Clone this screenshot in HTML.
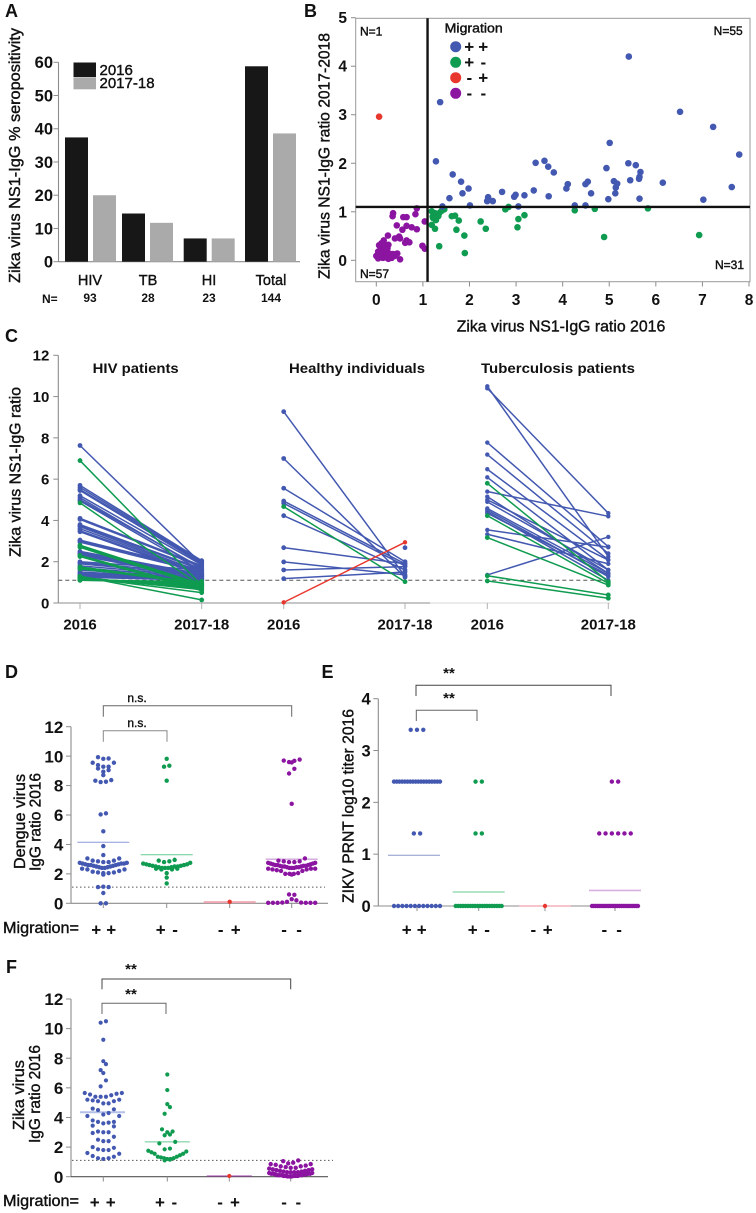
<!DOCTYPE html>
<html lang="en"><head><meta charset="utf-8"><title>Zika virus serology panels</title>
<style>
html,body{margin:0;padding:0;background:#fff}
svg{display:block;font-family:"Liberation Sans",Arial,sans-serif}
text{fill:#111}
.s{stroke:#111;stroke-width:.4px}
.b{font-weight:bold}
.l{font-weight:bold;font-size:18px}
.pm{font-weight:bold;font-size:17px}
</style></head><body>
<svg id="figure" width="756" height="1213" viewBox="0 0 756 1213" xmlns="http://www.w3.org/2000/svg">
<g id="panel-a">
<text class="l" x="5" y="17">A</text>
<text class="s" transform="translate(20,283) rotate(-90)" font-size="16" textLength="255" lengthAdjust="spacingAndGlyphs">Zika virus NS1-IgG % seropositivity</text>
<rect x="73.5" y="62.5" width="22.5" height="14.5" fill="#171717"/>
<rect x="73.5" y="77.3" width="22.5" height="12" fill="#aaaaaa"/>
<text class="s" x="99.5" y="75" font-size="15">2016</text>
<text class="s" x="99.5" y="88" font-size="15">2017-18</text>
<text class="b" x="42" y="303" font-size="12">N=</text>
</g>
<g id="panel-b">
<text class="l" x="304" y="17">B</text>
<text class="s" transform="translate(329.3,279) rotate(-90)" font-size="16" textLength="246" lengthAdjust="spacingAndGlyphs">Zika virus NS1-IgG ratio 2017-2018</text>
<text class="s" x="456.7" y="331.7" font-size="16" textLength="208.6" lengthAdjust="spacingAndGlyphs">Zika virus NS1-IgG ratio 2016</text>
<text class="s" x="360" y="35.7" font-size="12">N=1</text>
<text class="s" x="742.7" y="35" font-size="12" text-anchor="end">N=55</text>
<text class="s" x="360" y="278" font-size="12">N=57</text>
<text class="s" x="744" y="269" font-size="12" text-anchor="end">N=31</text>
<text class="s" x="444.7" y="32.7" font-size="13" textLength="58" lengthAdjust="spacingAndGlyphs">Migration</text>
<text class="pm" x="464.3 478.3" y="52.5">++</text>
<text class="pm" x="464.3 480.5" y="68">+-</text>
<text class="pm" x="466.5 478.3" y="83.5">-+</text>
<text class="pm" x="466.5 480.5" y="99">--</text>
</g>
<g id="panel-c">
<text class="l" x="5" y="342">C</text>
<text class="s" transform="translate(20.7,557) rotate(-90)" font-size="15.5" textLength="170" lengthAdjust="spacingAndGlyphs">Zika virus NS1-IgG ratio</text>
<text class="b" x="92.7" y="373" font-size="14" textLength="86" lengthAdjust="spacingAndGlyphs">HIV patients</text>
<text class="b" x="289" y="373" font-size="14" textLength="136" lengthAdjust="spacingAndGlyphs">Healthy individuals</text>
<text class="b" x="481" y="373" font-size="14" textLength="154" lengthAdjust="spacingAndGlyphs">Tuberculosis patients</text>
</g>
<g id="panel-d">
<text class="l" x="5" y="678">D</text>
<text class="s" transform="translate(25,869) rotate(-90)" font-size="15.5" textLength="95" lengthAdjust="spacingAndGlyphs">Dengue virus</text>
<text class="s" transform="translate(40.7,871) rotate(-90)" font-size="15.5" textLength="98" lengthAdjust="spacingAndGlyphs">IgG ratio 2016</text>
<text class="s" x="3" y="933" font-size="16" textLength="76" lengthAdjust="spacingAndGlyphs">Migration=</text>
<text class="pm" x="91.3 106.3" y="935.5">++</text>
<text class="pm" x="155.7 172.2" y="935.5">+-</text>
<text class="pm" x="217.9 230.7" y="935.5">-+</text>
<text class="pm" x="281.2 296.2" y="935.5">--</text>
<text class="s" x="137" y="702" font-size="12" text-anchor="middle">n.s.</text>
<text class="s" x="137" y="727" font-size="12" text-anchor="middle">n.s.</text>
</g>
<g id="panel-e">
<text class="l" x="321.5" y="678">E</text>
<text class="s" transform="translate(353.3,903) rotate(-90)" font-size="16" textLength="194" lengthAdjust="spacingAndGlyphs">ZIKV PRNT log10 titer 2016</text>
<text class="pm" x="401.7 416.7" y="935.5">++</text>
<text class="pm" x="467.7 484.2" y="935.5">+-</text>
<text class="pm" x="530.5 542.7" y="935.5">-+</text>
<text class="pm" x="601.5 616.2" y="935.5">--</text>
<text class="b" x="449" y="678" font-size="15" text-anchor="middle">**</text>
<text class="b" x="449" y="703" font-size="15" text-anchor="middle">**</text>
</g>
<g id="panel-f">
<text class="l" x="6" y="973">F</text>
<text class="s" transform="translate(24,1130) rotate(-90)" font-size="15.5" textLength="70" lengthAdjust="spacingAndGlyphs">Zika virus</text>
<text class="s" transform="translate(40,1143) rotate(-90)" font-size="15.5" textLength="98" lengthAdjust="spacingAndGlyphs">IgG ratio 2016</text>
<text class="s" x="3" y="1206" font-size="16" textLength="76" lengthAdjust="spacingAndGlyphs">Migration=</text>
<text class="pm" x="89.7 105.7" y="1208">++</text>
<text class="pm" x="155 171.5" y="1208">+-</text>
<text class="pm" x="217.2 230" y="1208">-+</text>
<text class="pm" x="281.2 295.5" y="1208">--</text>
<text class="b" x="131" y="974" font-size="15" text-anchor="middle">**</text>
<text class="b" x="131" y="999" font-size="15" text-anchor="middle">**</text>
</g>
</svg>
<script>
/* ---------- Panel A data ---------- */
const aCategories=['HIV','TB','HI','Total'];
const aSero2016=[37.4,14.5,7,58.8];
const aSero2018=[20,11.7,7,38.6];
const aCounts=['93','28','23','144'];
const aTicks=[0,10,20,30,40,50,60];
/* ---------- Panel B data ---------- */
const bBlueX=[5.42,1.37,6.52,7.23,5.01,7.79,1.28,3.42,3.61,3.69,3.81,4.94,5.41,5.57,5.67,5.65,5.64,5.45,1.64,1.82,1.85,1.98,1.57,2.01,1.42,2.40,2.38,2.50,2.70,2.96,2.99,3.05,3.18,3.38,3.70,4.11,4.08,4.26,4.49,4.54,4.49,4.61,4.98,5.10,5.17,5.14,5.13,5.65,6.15,7.02,7.63];
const bBlueY=[4.20,3.26,3.06,2.75,2.42,2.18,2.04,2.01,2.05,1.93,1.81,1.90,2.00,1.96,1.82,1.72,1.68,1.65,1.77,1.62,1.38,1.48,1.28,1.13,1.11,1.30,1.22,1.22,1.41,1.31,1.35,1.11,1.34,1.44,1.32,1.57,1.48,1.13,1.13,1.62,1.57,1.38,1.26,1.63,1.58,1.50,1.38,1.27,1.60,1.25,1.51];
const bGreenX=[1.19,1.26,1.21,1.30,1.28,1.22,1.35,1.40,1.46,1.33,1.19,1.26,1.35,1.90,1.89,1.72,1.77,1.62,1.69,2.24,2.35,2.77,2.84,3.03,3.05,3.18,4.26,4.69,4.89,5.83,6.93];
const bGreenY=[1.01,0.97,0.90,0.90,0.83,0.87,0.97,1.02,1.05,0.91,0.73,0.65,0.29,0.15,0.51,0.63,0.82,0.91,0.92,0.80,0.65,1.05,1.10,0.68,0.85,0.93,1.03,1.06,0.48,1.07,0.52];
const bRedX=[0.06];
const bRedY=[2.96];
const bPurpleX=[0.87,0.84,0.36,0.35,0.58,0.65,1.04,0.44,0.65,0.76,0.87,0.56,0.25,0.40,0.49,0.51,0.65,0.71,0.62,0.99,1.04,0.16,0.11,0.06,0.19,0.24,0.11,0.04,0.16,0.28,0.36,0.45,0.01,0.08,0.16,0.29,0.40,0.51,0.04,0.00,0.11,0.21,0.26,0.13,0.18,0.22,0.08,0.14,0.20,0.30,0.33,0.26];
const bPurpleY=[1.07,0.95,0.97,0.91,0.89,0.89,0.80,0.72,0.71,0.68,0.64,0.63,0.51,0.45,0.49,0.45,0.41,0.37,0.36,0.30,0.24,0.41,0.35,0.31,0.32,0.25,0.25,0.18,0.18,0.14,0.13,0.14,0.09,0.08,0.11,0.08,0.09,0.02,0.04,0.09,0.14,0.20,0.32,0.22,0.26,0.13,0.15,0.05,0.06,0.12,0.05,0.03];
const bXTicks=[0,1,2,3,4,5,6,7,8];
const bYTicks=[0,1,2,3,4,5];
const bCutoff=1.1;
/* ---------- Panel C data ---------- */
const cTicks=[0,2,4,6,8,10,12];
const cTimepoints=['2016','2017-18'];
const cCutoff=1.1;
const hivBlue2016=[7.63,5.7,5.6,5.5,5.45,5.2,5.1,5.0,4.95,4.1,4.05,3.8,3.75,3.7,3.6,3.5,3.45,3.05,3.0,2.95,2.5,2.45,2.4,2.35,2.3,2.0,1.95,1.9,1.8,1.7,1.6,1.5,1.45,1.4,1.35,1.3,1.25];
const hivBlue2018=[1.9,2.05,2.0,1.95,1.9,1.85,1.65,1.7,1.55,1.8,1.75,1.65,1.6,1.5,1.45,1.4,1.35,1.6,1.55,1.5,1.4,1.35,1.3,1.25,1.2,1.6,1.45,1.35,1.3,1.25,1.2,1.2,1.15,1.15,1.1,1.15,1.1];
const hivGreen2016=[6.9,4.85,2.8,2.75,2.7,2.3,2.25,1.75,1.7,1.65,1.3,1.25,1.25,1.2,1.2,1.2,1.15,1.15,1.15,1.1,1.1];
const hivGreen2018=[0.85,0.8,0.9,0.85,0.8,0.7,0.6,0.95,0.9,1.0,0.15,0.65,0.5,0.7,0.75,0.8,0.85,0.9,0.95,1.0,1.05];
const hiBlue2016=[9.27,7.0,5.56,4.94,4.83,4.23,2.68,1.99,1.6,1.18];
const hiBlue2018=[1.3,1.25,2.0,1.9,1.8,1.6,1.9,1.36,1.76,1.5];
const hiBlueExtra2018=[2.68];
const hiGreen2016=[4.67];
const hiGreen2018=[1.03];
const hiRed2016=[0.03];
const hiRed2018=[2.94];
const tbBlue2016=[10.5,10.4,7.77,7.19,6.48,6.09,5.4,5.15,5.0,4.9,4.58,4.5,4.42,4.35,3.54,3.33,1.36];
const tbBlue2018=[2.25,4.35,2.73,2.4,2.1,1.6,4.2,1.44,2.08,1.6,1.44,1.28,1.1,1.36,2.7,1.9,3.2];
const tbGreen2016=[5.8,4.23,3.17,1.32,1.07];
const tbGreen2018=[1.03,0.95,0.87,0.39,0.23];
/* ---------- Panel D data ---------- */
const dTicks=[0,2,4,6,8,10,12];
const dPlusPlus=[9.93,9.84,9.82,9.55,9.55,9.39,9.28,9.28,9.16,9.05,8.94,8.71,8.37,8.33,8.26,8.24,6.11,6.04,4.89,3.89,3.28,3.05,3.05,2.9,2.9,2.85,2.8,2.8,2.75,2.75,2.7,2.7,2.7,2.65,2.65,2.6,2.6,2.6,2.55,2.55,2.5,2.5,2.45,2.45,2.4,2.4,2.35,2.3,2.3,2.2,2.15,2.1,2.1,2.05,2.05,1.95,1.1,1.1,1.13,0.7,0,0];
const dPlusMinus=[9.82,9.35,9.28,8.33,2.95,2.9,2.85,2.8,2.75,2.7,2.65,2.65,2.6,2.6,2.55,2.55,2.5,2.5,2.5,2.45,2.45,2.4,2.4,2.4,2.35,2.35,2.3,2.3,2.05,1.75,1.35];
const dMinusPlus=[0.1];
const dMinusMinus=[9.77,9.7,9.68,9.6,9.57,9.14,8.82,6.76,3.05,2.9,2.85,2.85,2.8,2.8,2.75,2.75,2.7,2.7,2.65,2.65,2.6,2.6,2.6,2.55,2.55,2.55,2.5,2.5,2.5,2.45,2.45,2.45,2.4,2.4,2.4,2.35,2.35,2.35,2.3,2.3,2.25,2.2,2.2,2.05,2.0,2.0,2.0,1.95,0.6,0.58,0.28,0.2,0.1,0.05,0.05,0.03,0.03,0.03,0.03,0.03,0.03];
const dMeans=[4.15,3.3,0.08,3.0];
const dCutoff=1.1;
/* ---------- Panel E data ---------- */
const eTicks=[0,1,2,3,4];
const eRowLevels=[3.4,2.4,1.4,0];
const eCountsPlusPlus=[3,18,2,12];
const eCountsPlusMinus=[0,2,2,20];
const eCountsMinusPlus=[0,0,0,1];
const eCountsMinusMinus=[0,2,6,26];
const eMeans=[0.98,0.27,0,0.3];
/* ---------- Panel F data ---------- */
const fTicks=[0,2,4,6,8,10,12];
const fPlusPlus=[10.5,10.4,9.25,7.8,7.6,7.2,7.0,6.5,6.1,5.65,5.65,5.6,5.55,5.5,5.4,5.4,5.4,5.2,5.2,5.15,5.1,5.1,4.95,4.95,4.6,4.55,4.5,4.3,4.2,4.1,4.1,3.8,3.7,3.7,3.65,3.6,3.45,3.4,3.05,3.0,3.0,2.95,2.7,2.5,2.4,2.4,2.0,1.95,1.85,1.8,1.8,1.6,1.55,1.4,1.35,1.25,1.25,1.2];
const fPlusMinus=[6.9,5.85,4.9,4.7,4.25,3.2,3.05,3.0,2.85,2.8,2.35,2.25,1.9,1.85,1.75,1.7,1.65,1.55,1.55,1.45,1.35,1.35,1.3,1.25,1.25,1.2,1.2,1.15,1.1];
const fMinusPlus=[0.05];
const fMinusMinus=[1.1,1.05,0.95,0.9,0.85,0.85,0.8,0.75,0.7,0.7,0.65,0.6,0.6,0.55,0.5,0.5,0.45,0.45,0.4,0.4,0.35,0.35,0.3,0.3,0.3,0.3,0.25,0.25,0.2,0.2,0.2,0.2,0.15,0.15,0.15,0.1,0.1,0.1,0.1,0.1,0.05,0.05,0.05,0.05,0.05,0.02,0.02,0.02];
const fMeans=[4.35,2.35,0.05,0.3];
const fCutoff=1.1;

const NS='http://www.w3.org/2000/svg';
const BLUE='#4358b0',GREEN='#0f9b50',RED='#e8382e',PURPLE='#8b14a0',AXIS='#8c8c8c';
function add(parent,tag,attrs,name){
  const el=document.createElementNS(NS,tag);
  for(const k in attrs){el.setAttribute(k,attrs[k]);}
  
  
  parent.appendChild(el);
  return el;
}
function line(p,x1,y1,x2,y2,stroke,w,name,dash){
  const a={x1:x1,y1:y1,x2:x2,y2:y2,stroke:stroke,'stroke-width':w};
  if(dash){a['stroke-dasharray']=dash;}
  return add(p,'line',a,name);
}
function dot(p,x,y,r,fill,name){return add(p,'circle',{cx:x,cy:y,r:r,fill:fill},name);}
function label(p,s,x,y,size,anchor,name,bold){
  const el=add(p,'text',{x:x,y:y,'font-size':size,'text-anchor':anchor,class:bold?'b':'s'},name);
  el.textContent=s;
  return el;
}
function linear(d0,d1,r0,r1){return v=>r0+(v-d0)*(r1-r0)/(d1-d0);}
function yAxis(p,ticks,y,x,labelRight,size,len){
  line(p,x,y(ticks[0]),x,y(ticks[ticks.length-1]),AXIS,1.1,'y-axis-line');
  ticks.forEach(t=>{
    line(p,x-len,y(t),x,y(t),AXIS,1,'y-axis-tick');
    label(p,String(t),labelRight,y(t)+size*0.36,size,'end','y-tick-label',true);
  });
}
function bracket(p,x1,x2,top,drop,color,name){
  add(p,'path',{d:'M'+x1+' '+drop+'V'+top+'H'+x2+'V'+drop,fill:'none',stroke:color,'stroke-width':1},name);
}
/* Prism-style binned dot layout: values in one bin spread across a row, lowest in the middle. */
function drawBinned(p,vals,cx,y,o,color,name){
  const bins={};
  vals.forEach(v=>{const k=Math.floor(v/o.bin+1e-9);(bins[k]=bins[k]||[]).push(v);});
  Object.keys(bins).forEach(k=>{
    const row=bins[k].slice().sort((a,b)=>a-b);
    if(o.flipBelow!==undefined&&row[0]<o.flipBelow){row.reverse();}
    const n=row.length,step=n>1?Math.min(o.step,o.width/(n-1)):0;
    row.forEach((v,i)=>{
      const rank=Math.ceil(i/2);
      const side=i%2?1:-1;
      const off=n%2?side*rank:side*(Math.floor(i/2)+0.5);
      dot(p,cx+off*step,y(v),o.r,color,name);
    });
  });
}

(function panelA(){
  const p=document.getElementById('panel-a');
  const y=linear(0,60,261.7,62.3);
  const groupX=[65,122,183.7,245];
  const labelX=[90,148,209,271];
  yAxis(p,aTicks,y,58.5,53,16.5,5);
  line(p,58.5,y(0),300,y(0),AXIS,1.1,'x-axis-line');
  aCategories.forEach((c,i)=>{
    add(p,'rect',{x:groupX[i],y:y(aSero2016[i]),width:23,height:y(0)-y(aSero2016[i]),fill:'#171717'},'bar-2016-'+c.toLowerCase());
    add(p,'rect',{x:groupX[i]+28,y:y(aSero2018[i]),width:23,height:y(0)-y(aSero2018[i]),fill:'#aaaaaa'},'bar-2017-18-'+c.toLowerCase());
    label(p,c,labelX[i],285,14.5,'middle','category-label');
    label(p,aCounts[i],labelX[i],302,12,'middle','n-count',true);
  });
})();

(function panelB(){
  const p=document.getElementById('panel-b');
  const x=linear(0,8,376.3,749),y=linear(0,5,260.3,17.7);
  add(p,'rect',{x:355.7,y:18.3,width:394.3,height:263.4,fill:'none',stroke:'#9a9a9a','stroke-width':1},'plot-frame');
  bXTicks.forEach(t=>{
    line(p,x(t),281.7,x(t),286.5,AXIS,1,'x-axis-tick');
    label(p,String(t),x(t),305,15.5,'middle','x-tick-label',true);
  });
  bYTicks.forEach(t=>{
    line(p,351,y(t),355.7,y(t),AXIS,1,'y-axis-tick');
    label(p,String(t),347,y(t)+5.5,15.5,'end','y-tick-label',true);
  });
  bPurpleX.forEach((v,i)=>dot(p,x(v),y(bPurpleY[i]),3.3,PURPLE,'point-minus-minus'));
  bGreenX.forEach((v,i)=>dot(p,x(v),y(bGreenY[i]),3.3,GREEN,'point-plus-minus'));
  bBlueX.forEach((v,i)=>dot(p,x(v),y(bBlueY[i]),3.3,BLUE,'point-plus-plus'));
  bRedX.forEach((v,i)=>dot(p,x(v),y(bRedY[i]),3.3,RED,'point-minus-plus'));
  line(p,x(bCutoff),18.3,x(bCutoff),281.7,'#111',2.4,'cutoff-vertical');
  line(p,355.7,y(bCutoff),750,y(bCutoff),'#111',2.4,'cutoff-horizontal');
  const legendColors=[BLUE,GREEN,RED,PURPLE];
  const legendY=[46.7,62.3,77.7,93.3];
  legendColors.forEach((c,i)=>dot(p,455.7,legendY[i],5.5,c,'legend-marker'));
})();

(function panelC(){
  const p=document.getElementById('panel-c');
  const y=linear(0,12,603,355.3);
  yAxis(p,cTicks,y,58.3,49.3,15,5);
  line(p,58.3,603,430,603,AXIS,1.1,'x-axis-line');
  line(p,430,603,610,603,'#d4d4d4',1,'x-axis-line-extension');
  line(p,58.3,y(cCutoff),610,y(cCutoff),'#555',1,'cutoff-dashed-line','4 3');
  function pairs(x0,x1,from,to,color,name,r){
    from.forEach((v,i)=>line(p,x0,y(v),x1,y(to[i]),color,1.5,name+'-line'));
    from.forEach((v,i)=>{
      dot(p,x0,y(v),r,color,name+'-2016');
      dot(p,x1,y(to[i]),r,color,name+'-2017-18');
    });
  }
  [[80,201.7],[283.7,405],[487.3,608.3]].forEach(g=>{
    g.forEach((gx,i)=>{
      line(p,gx,603,gx,609,'#b0b0b0',1,'x-axis-tick');
      label(p,cTimepoints[i],gx,629.3,15,'middle','x-tick-label',true);
    });
  });
  pairs(80,201.7,hivBlue2016,hivBlue2018,BLUE,'hiv-plus-plus',2.4);
  pairs(80,201.7,hivGreen2016,hivGreen2018,GREEN,'hiv-plus-minus',2.4);
  pairs(283.7,405,hiBlue2016,hiBlue2018,BLUE,'healthy-plus-plus',2.4);
  hiBlueExtra2018.forEach(v=>dot(p,405,y(v),2.4,BLUE,'healthy-plus-plus-2017-18'));
  pairs(283.7,405,hiGreen2016,hiGreen2018,GREEN,'healthy-plus-minus',2.4);
  pairs(283.7,405,hiRed2016,hiRed2018,RED,'healthy-minus-plus',2.2);
  pairs(487.3,608.3,tbBlue2016,tbBlue2018,BLUE,'tb-plus-plus',2.2);
  pairs(487.3,608.3,tbGreen2016,tbGreen2018,GREEN,'tb-plus-minus',2.4);
})();

function meanBars(p,means,y,cx,half,styles){
  means.forEach((m,i)=>line(p,cx[i]-half,y(m),cx[i]+half,y(m),styles[i][0],styles[i][1],'mean-line'));
}

(function panelD(){
  const p=document.getElementById('panel-d');
  const y=linear(0,12,903.3,726.7),cx=[103.3,166.7,229.7,291.7];
  yAxis(p,dTicks,y,71,63.3,17,5);
  line(p,71,903.3,328,903.3,AXIS,1.1,'x-axis-line');
  cx.forEach(x=>line(p,x,903.3,x,908,AXIS,1,'x-axis-tick'));
  line(p,72,y(dCutoff),325,y(dCutoff),'#555',1,'cutoff-dotted-line','1.5 2.5');
  meanBars(p,dMeans,y,cx,26,[['#8a98d8',1],['#66c990',1],['#f0a8b4',2],['#bf85cf',1]]);
  const opt={bin:0.4,step:5.3,width:47,r:2.2,flipBelow:1.2};
  drawBinned(p,dPlusPlus,cx[0],y,opt,BLUE,'point-plus-plus');
  drawBinned(p,dPlusMinus,cx[1],y,opt,GREEN,'point-plus-minus');
  drawBinned(p,dMinusPlus,cx[2],y,opt,RED,'point-minus-plus');
  drawBinned(p,dMinusMinus,cx[3],y,opt,PURPLE,'point-minus-minus');
  bracket(p,103.3,291.7,705.7,716.7,'#666','bracket-top');
  bracket(p,103.3,167,730.7,741.7,'#888','bracket-bottom');
})();

(function panelE(){
  const p=document.getElementById('panel-e');
  const y=linear(0,4,906,698.7),cx=[417,478.7,545,615];
  yAxis(p,eTicks,y,378.3,370.7,16.5,5);
  line(p,378.3,906,640,906,AXIS,1.1,'x-axis-line');
  cx.forEach(x=>line(p,x,906,x,911,AXIS,1,'x-axis-tick'));
  meanBars(p,eMeans,y,[414,478.7,545,615],26,[['#8a98c8',1],['#66c990',1],['#f08a98',1],['#d8b0e0',1.6]]);
  function rows(counts,center,color,name){
    counts.forEach((n,i)=>{
      const step=n>1?Math.min(6.3,46/(n-1)):0;
      for(let k=0;k<n;k++){dot(p,center+(k-(n-1)/2)*step,y(eRowLevels[i]),2.2,color,name);}
    });
  }
  rows(eCountsPlusPlus,cx[0],BLUE,'point-plus-plus');
  rows(eCountsPlusMinus,cx[1],GREEN,'point-plus-minus');
  rows(eCountsMinusPlus,cx[2],RED,'point-minus-plus');
  rows(eCountsMinusMinus,cx[3],PURPLE,'point-minus-minus');
  bracket(p,416,611,685.3,696,'#444','bracket-top');
  bracket(p,416.3,477,710.3,721,'#666','bracket-bottom');
})();

(function panelF(){
  const p=document.getElementById('panel-f');
  const y=linear(0,12,1176.7,999),cx=[103.3,167.3,229.3,290.7];
  yAxis(p,fTicks,y,71,63.3,17,5);
  line(p,71,1176.7,328,1176.7,'#555',1.1,'x-axis-line');
  cx.forEach(x=>line(p,x,1176.7,x,1181.5,AXIS,1,'x-axis-tick'));
  line(p,72,y(fCutoff),333,y(fCutoff),'#555',1,'cutoff-dotted-line','1.5 2.5');
  meanBars(p,fMeans,y,[102.5,167.3,229.3,291],22.5,[['#b4c0e8',2],['#66c990',1],['#a040a8',1],['#c080d0',1]]);
  const opt={bin:0.6,step:5.3,width:38,r:2.1};
  drawBinned(p,fPlusPlus,cx[0],y,opt,BLUE,'point-plus-plus');
  drawBinned(p,fPlusMinus,cx[1],y,opt,GREEN,'point-plus-minus');
  drawBinned(p,fMinusPlus,cx[2],y,opt,RED,'point-minus-plus');
  drawBinned(p,fMinusMinus,cx[3],y,{bin:0.3,step:5,width:43,r:2.2},PURPLE,'point-minus-minus');
  bracket(p,102,290.7,979,989.3,'#444','bracket-top');
  bracket(p,102,166,1003.3,1014,'#666','bracket-bottom');
})();
</script>
</body></html>
